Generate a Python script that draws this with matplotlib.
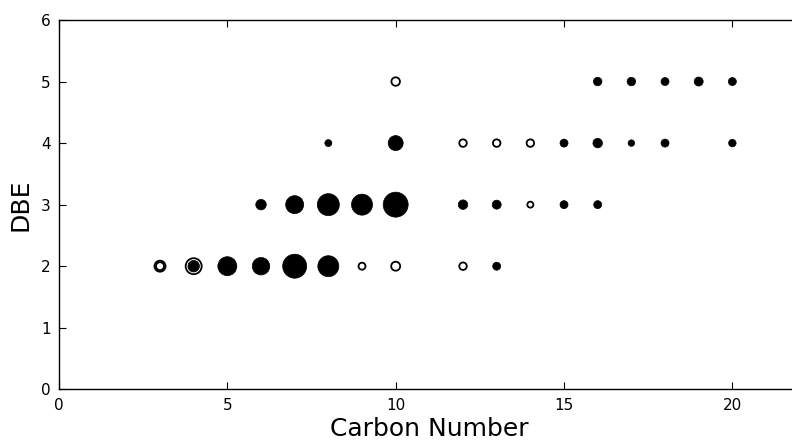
import matplotlib
matplotlib.use('Agg')
import matplotlib.pyplot as plt

# filled circles: carbon number, DBE, relative abundance (marker diameter)
carbon_a = [4, 5, 6, 7, 8, 13,
            6, 7, 8, 9, 10, 12, 13, 15, 16,
            8, 10, 15, 16, 17, 18, 20,
            16, 17, 18, 19, 20]
dbe_a = [2, 2, 2, 2, 2, 2,
         3, 3, 3, 3, 3, 3, 3, 3, 3,
         4, 4, 4, 4, 4, 4, 4,
         5, 5, 5, 5, 5]
abund_a = [11.5, 19, 17.5, 24, 21, 8,
           10.5, 18, 22, 21, 25, 9.5, 9, 8, 8,
           7, 15, 8, 9.5, 6.5, 8, 7.5,
           8.5, 8.5, 8, 9, 8]

# open circles
carbon_b = [3, 3, 4, 9, 10, 12, 14, 12, 13, 14, 10]
dbe_b = [2, 2, 2, 2, 2, 2, 3, 4, 4, 4, 5]
abund_b = [11, 8, 16, 7, 9, 7.5, 6, 7.5, 7.5, 7.5, 8.5]

px = 0.72  # points per pixel at dpi 100

fig = plt.figure(figsize=(7.92, 4.43), dpi=100)
ax = fig.add_axes([59/792, 53.7/443, 740.7/792, 369.3/443])

ax.scatter(carbon_b, dbe_b, s=[(d*px)**2 for d in abund_b], facecolors='white',
           edgecolors='black', linewidths=1.3, zorder=2)
ax.scatter(carbon_a, dbe_a, s=[(d*px)**2 for d in abund_a], facecolors='black',
           edgecolors='black', linewidths=0.5, zorder=3)

ax.set_xlim(0, 22)
ax.set_ylim(0, 6)
ax.set_xticks([0, 5, 10, 15, 20])
ax.set_yticks([0, 1, 2, 3, 4, 5, 6])
ax.tick_params(direction='in', top=True, right=True, length=5, width=0.8,
               labelsize=11, pad=6)
for s in ax.spines.values():
    s.set_linewidth(1.0)
ax.set_xlabel('Carbon Number', fontsize=18, labelpad=3)
ax.set_ylabel('DBE', fontsize=18, labelpad=6)

fig.savefig('out.png', dpi=100)
